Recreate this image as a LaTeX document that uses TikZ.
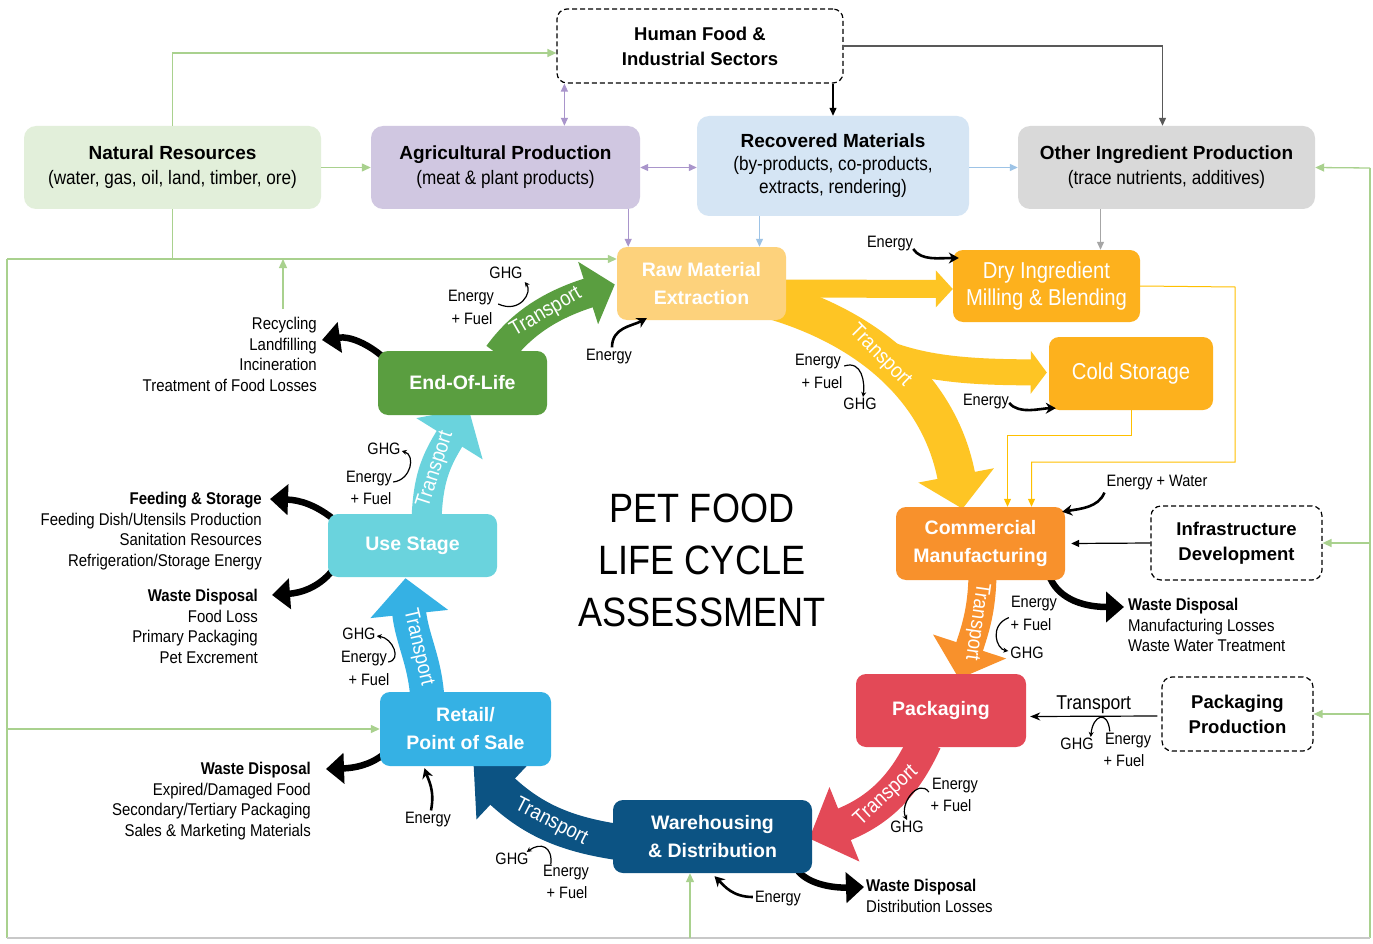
\documentclass[tikz,border=0pt]{standalone}
\usepackage{fontspec}
\setmainfont{Liberation Sans}
\newfontfamily\nfont[FakeStretch=0.88]{Liberation Sans}
\usetikzlibrary{arrows.meta,calc,backgrounds}

\definecolor{natfill}{HTML}{E2EFDA}
\definecolor{agrifill}{HTML}{D0C7E1}
\definecolor{recfill}{HTML}{D5E5F4}
\definecolor{othfill}{HTML}{D9D9D9}
\definecolor{rawfill}{HTML}{FDD27C}
\definecolor{amber}{HTML}{FDB11D}
\definecolor{commfill}{HTML}{F8912C}
\definecolor{packfill}{HTML}{E34957}
\definecolor{warefill}{HTML}{0C5383}
\definecolor{retfill}{HTML}{35B1E4}
\definecolor{usefill}{HTML}{6AD3DD}
\definecolor{eolfill}{HTML}{5A9E40}
\definecolor{flowyel}{HTML}{FEC524}
\definecolor{lgreen}{HTML}{A9D18E}
\definecolor{lpurp}{HTML}{A995CB}
\definecolor{lblue}{HTML}{9DC3E6}
\definecolor{lgold}{HTML}{FFC000}
\definecolor{lgray}{HTML}{A6A6A6}
\definecolor{dgray}{HTML}{595959}
\definecolor{edgegray}{HTML}{C8C8C8}

\tikzset{
  srcbox/.style={rounded corners=12pt, inner sep=0pt, align=center,
    font=\nfont\fontsize{19.5}{25}\selectfont},
  stage/.style={rounded corners=10pt, inner sep=0pt, align=center, text=white,
    font=\bfseries\fontsize{19.5}{28}\selectfont},
  amberbox/.style={rounded corners=10pt, inner sep=0pt, align=center, text=white,
    fill=amber, font=\nfont\fontsize{23}{27}\selectfont},
  dashbox/.style={draw, dash pattern=on 5pt off 3pt, line width=1.2pt,
    rounded corners=10pt, inner sep=0pt, align=center,
    font=\bfseries\fontsize{18.5}{25}\selectfont},
  lab/.style={font=\nfont\fontsize{16.5}{20.5}\selectfont, inner sep=0pt},
  lst/.style={lab, font=\nfont\fontsize{17}{20.5}\selectfont, align=right},
  flab/.style={text=white, inner sep=0pt, font=\nfont\fontsize{21}{24}\selectfont},
  flow/.style n args={4}{draw=#1, line width=#2, -{Triangle[length=#3,width=#4]}},
  waste/.style={line width=6.5pt, -{Triangle[length=18pt,width=30pt]}},
  energy/.style={line width=2.6pt, -{Stealth[length=10pt,width=11pt]}},
  curl/.style={line width=1.2pt, -{Stealth[length=5pt,width=5pt]}},
  tarrow/.style={line width=1.2pt, -{Triangle[length=8pt,width=7pt]}},
  gline/.style={draw=lgreen, line width=1.3pt},
  garrow/.style={gline, -{Triangle[length=9pt,width=8pt]}},
}
\newcommand\boxhead[1]{{\bfseries\rmfamily\fontsize{19}{25}\selectfont #1}}

\begin{document}
\begin{tikzpicture}[x=1pt,y=-1pt]
\useasboundingbox (0,0) rectangle (1373,944);

% sources
\node[dashbox, minimum width=286pt, minimum height=74pt] (human) at (700,46)
  {Human Food \&\\Industrial Sectors};
\node[srcbox, fill=natfill, minimum width=297pt, minimum height=83pt] (nat) at (172.5,167.5)
  {\boxhead{Natural Resources}\\(water, gas, oil, land, timber, ore)};
\node[srcbox, fill=agrifill, minimum width=269pt, minimum height=83pt] (agri) at (505.5,167.5)
  {\boxhead{Agricultural Production}\\(meat \& plant products)};
\node[srcbox, fill=recfill, minimum width=272pt, minimum height=100pt,
  font=\nfont\fontsize{19.5}{23}\selectfont] (rec) at (833,166)
  {\boxhead{Recovered Materials}\\(by-products, co-products,\\extracts, rendering)};
\node[srcbox, fill=othfill, minimum width=297pt, minimum height=83pt] (oth) at (1166.5,167.5)
  {\boxhead{Other Ingredient Production}\\(trace nutrients, additives)};

% life cycle stages
\node[stage, fill=rawfill, minimum width=169pt, minimum height=73pt] (raw) at (701.5,283.5)
  {Raw Material\\Extraction};
\node[amberbox, minimum width=187pt, minimum height=72pt] (dry) at (1046.5,286)
  {Dry Ingredient\\Milling \& Blending};
\node[amberbox, minimum width=164pt, minimum height=73pt] (cold) at (1131,373.5) {Cold Storage};
\node[stage, fill=commfill, minimum width=169pt, minimum height=73pt] (comm) at (980.5,543.5)
  {Commercial\\Manufacturing};
\node[dashbox, minimum width=171pt, minimum height=74pt] (infra) at (1236.5,543)
  {Infrastructure\\Development};
\node[stage, fill=packfill, minimum width=170pt, minimum height=73pt] (pack) at (941,710.5) {Packaging};
\node[dashbox, minimum width=151pt, minimum height=74pt] (ppro) at (1237.5,714)
  {Packaging\\Production};
\node[stage, fill=warefill, minimum width=199pt, minimum height=73pt] (ware) at (712.5,836.5)
  {Warehousing\\\& Distribution};
\node[stage, fill=retfill, minimum width=171pt, minimum height=74pt] (retail) at (465.5,729)
  {Retail/\\Point of Sale};
\node[stage, fill=usefill, minimum width=169pt, minimum height=63pt] (use) at (412.5,545.5) {Use Stage};
\node[stage, fill=eolfill, minimum width=169pt, minimum height=64pt] (eol) at (462.5,383) {End-Of-Life};

\node[font=\nfont\fontsize{41}{52}\selectfont, align=center] (title) at (702,560)
  {PET FOOD\\LIFE CYCLE\\ASSESSMENT};

% outputs
\node[lst, anchor=north east] (lEol) at (317,317)
  {Recycling\\Landfilling\\Incineration\\Treatment of Food Losses};
\node[lst, anchor=north east] (lFeed) at (262,492)
  {\textbf{Feeding \& Storage}\\Feeding Dish/Utensils Production\\Sanitation Resources\\Refrigeration/Storage Energy};
\node[lst, anchor=north east] (lUse) at (258,589)
  {\textbf{Waste Disposal}\\Food Loss\\Primary Packaging\\Pet Excrement};
\node[lst, anchor=north east] (lRet) at (311,762)
  {\textbf{Waste Disposal}\\Expired/Damaged Food\\Secondary/Tertiary Packaging\\Sales \& Marketing Materials};
\node[lst, anchor=north west, align=left] (lComm) at (1128,598)
  {\textbf{Waste Disposal}\\Manufacturing Losses\\Waste Water Treatment};
\node[lst, anchor=north west, align=left] (lWare) at (866,879)
  {\textbf{Waste Disposal}\\Distribution Losses};

% flows behind the boxes
\begin{scope}[on background layer]
  \fill[white] (0,0) rectangle (1373,944);
  \coordinate (fork) at (856,338);
  \draw[flow={flowyel}{18pt}{17pt}{36pt}] ($(raw.east)+(-5,5)$) -- ($(dry.west)+(0,3)$);
  \draw[flow={flowyel}{26pt}{16pt}{42pt}] (fork) .. controls (905,370) and (970,372) .. ($(cold.west)+(-2,-1)$);
  \draw[flow={flowyel}{38pt}{34pt}{75pt}] ($(raw.east)+(-10,18)$) .. controls (870,330) and (940,390) .. ($(comm.north)+(-18,2)$)
    node[flab, pos=0.42, rotate=-45] {Transport};
  \draw[flow={commfill}{28pt}{34pt}{75pt}] ($(comm.south)+(2,-6)$) .. controls (982,610) and (975,630) .. ($(pack.north)+(18,5)$)
    node[flab, pos=0.5, rotate=-98] {Transport};
  \draw[flow={packfill}{34pt}{38pt}{78pt}] ($(pack.south)+(-16,-6)$) .. controls (905,785) and (880,810) .. ($(ware.east)+(-3,2)$)
    node[flab, pos=0.5, rotate=43] {Transport};
  \draw[flow={warefill}{36pt}{40pt}{74pt}] ($(ware.west)+(8,6)$) .. controls (570,835) and (535,822) .. ($(retail.south)+(8,-2)$)
    node[flab, pos=0.5, rotate=-27] {Transport};
  \draw[flow={retfill}{34pt}{36pt}{76pt}] ($(retail.north)+(-38,8)$) .. controls (425,660) and (412,640) .. ($(use.south)+(-7,1)$)
    node[flab, pos=0.5, rotate=-77] {Transport};
  \draw[flow={usefill}{30pt}{36pt}{76pt}] ($(use.north)+(14,6)$) .. controls (428,480) and (435,462) .. ($(eol.south)+(6,-7)$)
    node[flab, pos=0.5, rotate=72] {Transport};
  \draw[flow={eolfill}{30pt}{28pt}{64pt}] ($(eol.north)+(36,4)$) .. controls (525,318) and (560,302) .. ($(raw.west)+(-2,1)$)
    node[flab, pos=0.5, rotate=30] {Transport};
  % waste streams
  \draw[waste] ($(eol.north west)+(5,6)$) .. controls (368,344) and (350,336) .. ($(lEol.north east)+(5,23)$);
  \draw[waste] ($(use.north west)+(4,4)$) .. controls (315,505) and (300,500) .. ($(lFeed.north east)+(8,7)$);
  \draw[waste] ($(use.south west)+(4,-6)$) .. controls (318,588) and (300,593) .. ($(lUse.north east)+(14,6)$);
  \draw[waste] ($(retail.south west)+(4,-12)$) .. controls (370,765) and (355,768) .. ($(lRet.north east)+(15,7)$);
  \draw[waste] ($(comm.south east)+(-15,-2)$) .. controls (1060,600) and (1085,607) .. ($(lComm.north west)+(-4,9)$);
  \draw[waste] ($(ware.south east)+(-14,-2)$) .. controls (810,885) and (835,888) .. ($(lWare.north west)+(-2,8)$);
\end{scope}

% feedback lines
\coordinate (gl) at (7,259);
\coordinate (gbl) at (7,938);
\coordinate (gbr) at (1370,938);
\coordinate (gtr) at (1370,168);
\coordinate (wbot) at (690,938);
\coordinate (rc) at (283,309);
\draw[gline] (gtr) -- (gbr);
\draw[gline] (gbl) -- (gl);
\draw[draw=edgegray, line width=1.8pt] (gbl) -- (gbr);
\draw[gline] (nat.south) -- (nat.south |- gl);
\draw[garrow] (gl) -- (raw.west |- gl);
\draw[garrow] (rc) -- (rc |- gl);
\draw[garrow] (nat.north) |- ($(human.west)+(0,7)$);
\draw[garrow] (nat.east) -- (agri.west);
\draw[garrow] (gbl |- retail.west) -- (retail.west);
\draw[garrow] (wbot) -- (wbot |- ware.south);
\draw[garrow] (gtr) -- (oth.east);
\draw[garrow] (gtr |- infra.east) -- (infra.east);
\draw[garrow] (gtr |- ppro.east) -- (ppro.east);

% supply lines
\coordinate (hp) at ($(human.south west)+(8,0)$);
\coordinate (pa) at ($(agri.south east)+(-12,0)$);
\coordinate (rb) at ($(raw.north)+(58,0)$);
\coordinate (od) at ($(dry.north)+(54,0)$);
\draw[tarrow, draw=lpurp, {Triangle[length=8pt,width=7pt]}-{Triangle[length=8pt,width=7pt]}]
  (hp) -- (hp |- agri.north);
\draw[tarrow, draw=lpurp, {Triangle[length=8pt,width=7pt]}-{Triangle[length=8pt,width=7pt]}]
  (agri.east) -- (agri.east -| rec.west);
\draw[tarrow, draw=lpurp] (pa) -- (pa |- raw.north);
\draw[tarrow, draw=lblue] (rec.east |- oth.west) -- (oth.west);
\draw[tarrow, draw=lblue] (rb |- rec.south) -- (rb);
\draw[tarrow] (human.south -| rec.north) -- (rec.north);
\draw[tarrow, draw=dgray] (human.east) -| ($(oth.north)+(-4,0)$);
\draw[tarrow, draw=lgray] (od |- oth.south) -- (od);
\draw[tarrow, draw=lgold, line width=1pt] (dry.east) -- (1235,287) -- (1235,462) -| ($(comm.north)+(51,0)$);
\draw[tarrow, draw=lgold, line width=1pt] (cold.south) -- (1131,435) -| ($(comm.north)+(27,0)$);
\draw[tarrow] (infra.west) -- ($(comm.east)+(6,0)$);
\draw[tarrow, -{Stealth[length=10pt,width=8pt]}] ($(ppro.west)+(-4,2)$) -- ($(pack.east)+(4,6)$)
  node[midway, above=2pt, lab, font=\nfont\fontsize{20}{24}\selectfont] {Transport};

% energy inputs
\node[lab] (enDry) at (890,244) {Energy};
\draw[energy] ($(enDry.east)+(0,5)$) .. controls +(8,12) and +(-20,0) .. ($(dry.west)+(6,-28)$);
\node[lab] (enRaw) at (609,357) {Energy};
\draw[energy] ($(enRaw.north)+(3,-2)$) .. controls +(0,-20) and +(-15,8) .. ($(raw.south west)+(30,-2)$);
\node[lab] (enCold) at (986,402) {Energy};
\draw[energy] ($(enCold.east)+(0,1)$) .. controls +(10,12) and +(-15,0) .. ($(cold.south west)+(7,-2)$);
\node[lab] (enComm) at (1157,483) {Energy + Water};
\draw[energy] ($(enComm.south west)+(-2,2)$) .. controls +(-6,15) and +(18,-3) .. ($(comm.north east)+(-3,5)$);
\node[lab] (enWare) at (778,899) {Energy};
\draw[energy] ($(enWare.west)+(-2,-2)$) .. controls +(-20,0) and +(10,10) .. ($(ware.south)+(2,3)$);
\node[lab] (enRet) at (428,820) {Energy};
\draw[energy] ($(enRet.north)+(3,-2)$) .. controls +(4,-20) and +(4,12) .. ($(retail.south)+(-41,2)$);

% transport emissions
\node[lab] (gA) at (506,273) {GHG};
\node[lab] (eA) at (471,298) {Energy};
\node[lab] at (472,319) {+ Fuel};
\draw[curl] ($(eA.east)+(4,6)$) .. controls +(22,10) and +(8,10) .. ($(gA.south east)+(2,3)$);
\node[lab] (eB) at (818,362) {Energy};
\node[lab] at (822,383) {+ Fuel};
\node[lab] (gB) at (860,404) {GHG};
\draw[curl] ($(eB.east)+(3,4)$) .. controls +(18,-6) and +(2,-14) .. ($(gB.north)+(3,-1)$);
\node[lab] (eC) at (1034,604) {Energy};
\node[lab] at (1031,625) {+ Fuel};
\node[lab] (gC) at (1027,653) {GHG};
\draw[curl] ($(eC.south west)+(-2,6)$) .. controls +(-20,8) and +(-12,-2) .. ($(gC.west)+(-2,-2)$);
\node[lab] (eD) at (955,786) {Energy};
\node[lab] at (951,806) {+ Fuel};
\node[lab] (gD) at (907,827) {GHG};
\draw[curl] ($(eD.west)+(-3,6)$) .. controls +(-10,-14) and +(-8,-16) .. ($(gD.north)+(0,-1)$);
\node[lab] (gE) at (512,859) {GHG};
\node[lab] (eE) at (566,873) {Energy};
\node[lab] at (567,893) {+ Fuel};
\draw[curl] ($(eE.north west)+(8,-1)$) .. controls +(2,-18) and +(14,-10) .. ($(gE.north east)+(-2,-1)$);
\node[lab] (gF) at (359,634) {GHG};
\node[lab] (eF) at (364,659) {Energy};
\node[lab] at (369,680) {+ Fuel};
\draw[curl] ($(eF.east)+(1,3)$) .. controls +(14,-2) and +(16,2) .. ($(gF.east)+(1,2)$);
\node[lab] (gG) at (384,449) {GHG};
\node[lab] (eG) at (369,479) {Energy};
\node[lab] at (371,499) {+ Fuel};
\draw[curl] ($(eG.east)+(1,3)$) .. controls +(18,-2) and +(14,4) .. ($(gG.east)+(1,2)$);
\node[lab] (gH) at (1077,744) {GHG};
\node[lab] (eH) at (1128,741) {Energy};
\node[lab] at (1124,761) {+ Fuel};
\draw[curl] ($(eH.north west)+(5,-2)$) .. controls +(-2,-22) and +(2,-22) .. ($(gH.north east)+(-3,-1)$);
\end{tikzpicture}
\end{document}
